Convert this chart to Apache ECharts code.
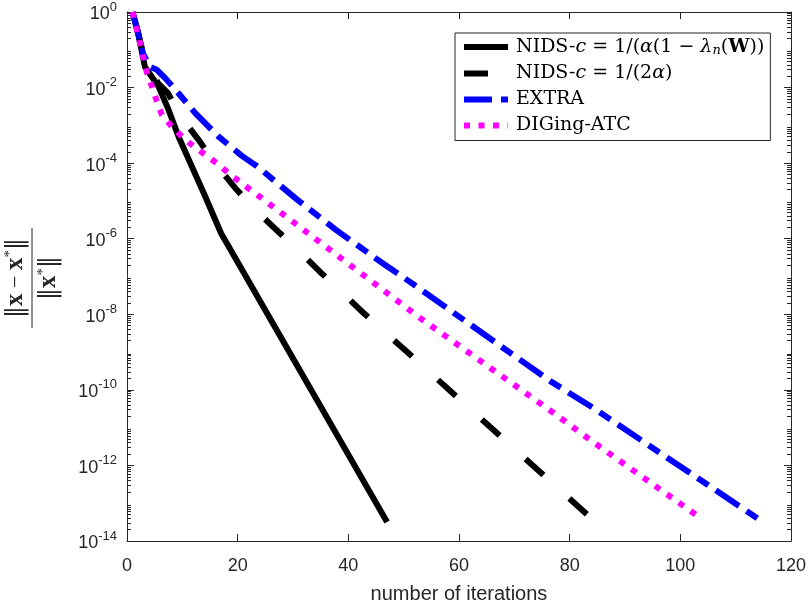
<!DOCTYPE html>
<html>
<head>
<meta charset="utf-8">
<script src="https://cdn.jsdelivr.net/npm/echarts@6/dist/echarts.min.js"></script>
<style>
html, body { margin: 0; padding: 0; background: #fff; }
#main { width: 809px; height: 609px; }
</style>
</head>
<body>
<div id="main"></div>
<script>
// values (iteration, relative error)
var nidsAIter = [1, 2, 3.25, 5.7, 7.5, 9.3, 11.7, 14.1, 17, 47];
var nidsAVal  = [1, 2.8e-1, 3.5e-2, 1.07e-2, 2.6e-3, 5.1e-4, 8.3e-5, 1.35e-5, 1.4e-6, 3.2e-14];

var nidsBIter = [1, 2, 3, 5.6, 7.4, 9.9, 12.9, 15.9, 19.5, 23.5, 27.4, 31.3, 34.9, 39.1, 42.7, 47, 50.9, 83.1];
var nidsBVal  = [1, 2.8e-1, 7.1e-2, 1.32e-2, 7.1e-3, 1.58e-3, 4.2e-4, 1.0e-4, 2.24e-5, 5.2e-6, 1.51e-6, 4.4e-7, 1.32e-7, 3.5e-8, 1.1e-8, 3.0e-9, 9.3e-10, 5.1e-14];

var extraIter = [1, 2, 2.9, 4.2, 5.4, 6.9, 9.3, 12.3, 16.5, 20.7, 23.5, 30.7, 37.7, 46.4, 51.2, 76.5, 84.3, 114.5];
var extraVal  = [1, 2.8e-1, 7.9e-2, 3.5e-2, 2.95e-2, 1.78e-2, 7.1e-3, 2.14e-3, 5.1e-4, 1.58e-4, 8.3e-5, 1.1e-5, 1.74e-6, 2.14e-7, 7.1e-8, 1.7e-10, 3.3e-11, 3.5e-14];

var digingIter = [1, 2, 3.56, 4.5, 5.4, 6.3, 8.1, 9.9, 12, 14.1, 16.5, 18.6, 20.7, 22.8, 25, 52.7, 77.1, 84, 103.5];
var digingVal  = [1, 2.5e-1, 2.6e-2, 1.07e-2, 4.3e-3, 1.9e-3, 9.3e-4, 5.1e-4, 2.8e-4, 1.7e-4, 9.3e-5, 5.0e-5, 3.0e-5, 1.74e-5, 1.0e-5, 8.5e-9, 2.45e-11, 4.4e-12, 4.2e-14];

var seriesNames = [
  'NIDS-c = 1/(α(1 − λn(W))',
  'NIDS-c = 1/(2α)',
  'EXTRA',
  'DIGing-ATC'
];
var legendRich = {};
legendRich[seriesNames[0]] = 'NIDS-{i|c} = 1/({i|α}(1 − {i|λ}{s|n}({w|W}))';
legendRich[seriesNames[1]] = 'NIDS-{i|c} = 1/(2{i|α})';
legendRich[seriesNames[2]] = 'EXTRA';
legendRich[seriesNames[3]] = 'DIGing-ATC';

var yTickExps = [-14, -12, -10, -8, -6, -4, -2, 0];

function pairs(xs, ys) {
  return xs.map(function (x, i) { return [x, ys[i]]; });
}

// minor log ticks (2..9 per decade), in exponent units
var minorExps = [];
for (var e = -14; e < 0; e++) {
  for (var m = 2; m <= 9; m++) minorExps.push(e + Math.log10(m));
}

var axisColor = '#262626';
var sans = 'Liberation Sans';
var serif = 'DejaVu Serif';

var styles = [
  { color: '#000', type: 'solid', offset: 0 },
  { color: '#000', type: [24, 35], offset: 45 },
  { color: '#0000ff', type: [28, 9, 13, 9], offset: 0 },
  { color: '#ff00ff', type: [6, 8.5], offset: 0 }
];

var myChart = echarts.init(document.getElementById('main'));

function tickAxis(position, customs, len, withLabels, withLine) {
  return {
    type: 'value', min: -14, max: 0, position: position,
    axisLine: { show: withLine, onZero: false, lineStyle: { color: axisColor, width: 1 } },
    axisTick: { show: true, inside: true, length: len, customValues: customs,
                lineStyle: { color: axisColor, width: 1 } },
    axisLabel: withLabels ? {
      show: true, customValues: yTickExps, margin: 10,
      formatter: function (v) { return '{b|10}{s|' + v + '}'; },
      rich: {
        b: { fontFamily: sans, fontSize: 18, color: axisColor, verticalAlign: 'bottom' },
        s: { fontFamily: sans, fontSize: 13, color: axisColor, verticalAlign: 'top', padding: [0, 0, 10, 0] }
      }
    } : { show: false },
    splitLine: { show: false }
  };
}

var option = {
  animation: false,
  backgroundColor: '#fff',
  grid: { left: 127, right: 18, top: 12, bottom: 64 },
  legend: {
    orient: 'vertical', left: 455, top: 33,
    itemWidth: 44, itemHeight: 14, itemGap: 6,
    padding: [4, 6, 5, 6],
    backgroundColor: '#fff', borderColor: axisColor, borderWidth: 1, borderRadius: 0,
    data: seriesNames.map(function (n, i) {
      return {
        name: n,
        itemStyle: { opacity: 0 },
        lineStyle: { color: styles[i].color, width: 6, type: styles[i].type, dashOffset: 0, cap: 'butt' }
      };
    }),
    formatter: function (name) { return legendRich[name]; },
    textStyle: {
      fontFamily: serif, fontSize: 19, color: '#000', lineHeight: 20, padding: [0, 0, 0, 3],
      rich: {
        i: { fontFamily: serif, fontSize: 19, fontStyle: 'italic', color: '#000' },
        w: { fontFamily: serif, fontSize: 19, fontWeight: 'bold', color: '#000' },
        s: { fontFamily: serif, fontSize: 13, fontStyle: 'italic', color: '#000', padding: [8, 0, 0, 0] }
      }
    }
  },
  xAxis: [{
    type: 'value', min: 0, max: 120, interval: 20, position: 'bottom',
    name: 'number of iterations', nameLocation: 'middle', nameGap: 43,
    nameTextStyle: { fontFamily: sans, fontSize: 20, color: axisColor },
    axisLine: { onZero: false, lineStyle: { color: axisColor, width: 1 } },
    axisTick: { inside: true, length: 7, lineStyle: { color: axisColor } },
    axisLabel: { margin: 16, fontFamily: sans, fontSize: 18, color: axisColor },
    splitLine: { show: false }
  }, {
    type: 'value', min: 0, max: 120, interval: 20, position: 'top',
    axisLine: { onZero: false, lineStyle: { color: axisColor, width: 1 } },
    axisTick: { inside: true, length: 7, lineStyle: { color: axisColor } },
    axisLabel: { show: false },
    splitLine: { show: false }
  }],
  yAxis: [
    { type: 'log', logBase: 10, min: 1e-14, max: 1, show: false, splitLine: { show: false } },
    tickAxis('left', yTickExps, 7, true, true),
    tickAxis('left', minorExps, 4, false, false),
    tickAxis('right', yTickExps, 7, false, true),
    tickAxis('right', minorExps, 4, false, false)
  ],
  series: [
    [nidsAIter, nidsAVal], [nidsBIter, nidsBVal], [extraIter, extraVal], [digingIter, digingVal]
  ].map(function (d, i) {
    return {
      name: seriesNames[i], type: 'line', symbol: 'none', data: pairs(d[0], d[1]),
      lineStyle: { color: styles[i].color, width: 6, type: styles[i].type, dashOffset: styles[i].offset, cap: 'butt' },
      itemStyle: { color: styles[i].color }
    };
  }),
  graphic: [{
    type: 'group', x: 32, y: 278, rotation: Math.PI / 2,
    children: [{
      type: 'text', x: 0, y: -16,
      style: {
        text: '{d|‖}{x|x}{o| − }{x|x}{p|*}{d|‖}',
        align: 'center', verticalAlign: 'middle',
        rich: {
          d: { fontFamily: 'DejaVu Serif', fontSize: 24, fill: axisColor },
          x: { fontFamily: 'Liberation Serif', fontSize: 25, fontWeight: 'bold', fill: axisColor },
          o: { fontFamily: 'Liberation Serif', fontSize: 22, fill: axisColor },
          p: { fontFamily: 'Liberation Serif', fontSize: 15, fill: axisColor, padding: [0, 0, 12, 0] }
        }
      }
    }, {
      type: 'line', shape: { x1: -50, y1: 0, x2: 50, y2: 0 },
      style: { stroke: axisColor, lineWidth: 1 }
    }, {
      type: 'text', x: 0, y: 17,
      style: {
        text: '{d|‖}{x|x}{p|*}{d|‖}',
        align: 'center', verticalAlign: 'middle',
        rich: {
          d: { fontFamily: 'DejaVu Serif', fontSize: 24, fill: axisColor },
          x: { fontFamily: 'Liberation Serif', fontSize: 25, fontWeight: 'bold', fill: axisColor },
          p: { fontFamily: 'Liberation Serif', fontSize: 15, fill: axisColor, padding: [0, 0, 12, 0] }
        }
      }
    }]
  }]
};

myChart.setOption(option);
</script>
</body>
</html>
